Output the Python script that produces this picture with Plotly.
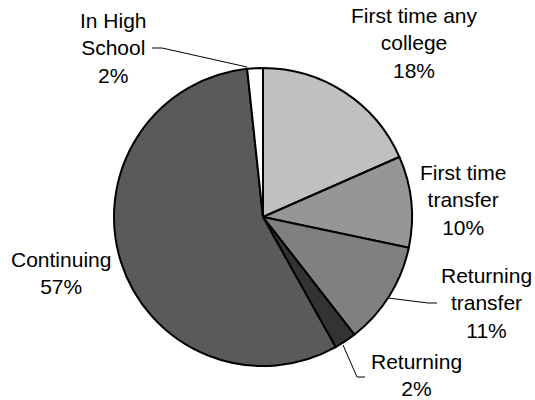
import plotly.graph_objects as go

W, H = 535, 400

categories = ["First time any college", "First time transfer", "Returning transfer",
              "Returning", "Continuing", "In High School"]
values = [18.4, 9.9, 11.2, 2.4, 56.4, 1.7]
pct_labels = ["18%", "10%", "11%", "2%", "57%", "2%"]
label_lines = [["First time any", "college"], ["First time", "transfer"],
               ["Returning", "transfer"], ["Returning"], ["Continuing"], ["In High", "School"]]
colors = ["#c0c0c0", "#969696", "#808080", "#333333", "#5a5a5a", "#ffffff"]

# label centres in pixels (x, y of block centre)
label_pos = [(414, 43), (463, 200), (486, 303), (416, 375), (61, 273), (113, 48)]

cx, cy, r = 263, 217, 149

fig = go.Figure(go.Pie(
    labels=categories, values=values, sort=False, direction="clockwise", rotation=0,
    marker=dict(colors=colors, line=dict(color="#000000", width=2)),
    textinfo="none", hoverinfo="label+percent", showlegend=False,
    domain=dict(x=[(cx - r) / W, (cx + r) / W], y=[(H - cy - r) / H, (H - cy + r) / H]),
))

for lines, pct, (px, py) in zip(label_lines, pct_labels, label_pos):
    fig.add_annotation(
        text="<br>".join(lines + [pct]), x=px / W, y=1 - py / H, xref="paper", yref="paper",
        xanchor="center", yanchor="middle", showarrow=False, align="center",
        font=dict(family="Liberation Sans, Arial", size=21, color="#000000"),
    )

leaders = [
    [(152, 48), (162, 48), (247, 67)],
    [(388, 298), (428, 303), (437, 303)],
    [(343, 345), (357, 377), (365, 377)],
]
for pts in leaders:
    path = "M " + " L ".join(f"{x / W},{1 - y / H}" for x, y in pts)
    fig.add_shape(type="path", path=path, xref="paper", yref="paper",
                  line=dict(color="#000000", width=1))

fig.update_layout(width=W, height=H, margin=dict(l=0, r=0, t=0, b=0),
                  paper_bgcolor="#ffffff", plot_bgcolor="#ffffff")
fig.write_html("out.html", config={"displayModeBar": False},
               post_script="document.body.style.margin='0';document.body.style.padding='0';")
